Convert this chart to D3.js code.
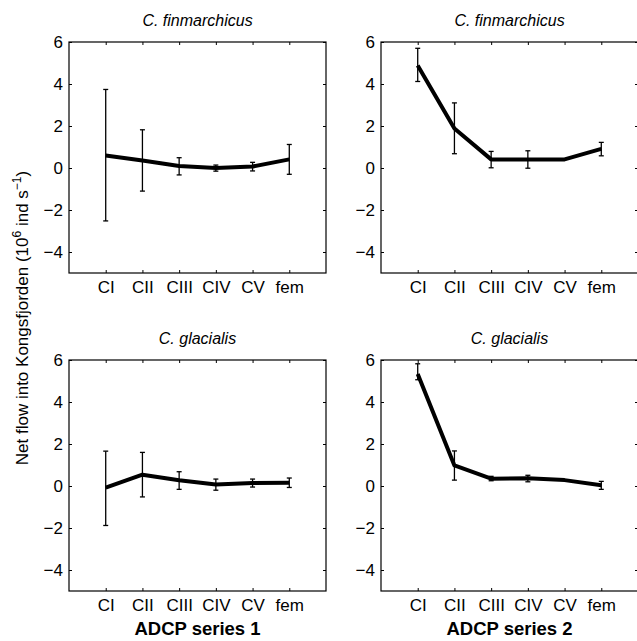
<!DOCTYPE html>
<html>
<head>
<meta charset="utf-8">
<script src="https://cdn.jsdelivr.net/npm/d3@7"></script>
<style>
  body { margin: 0; background: #fff; }
  svg { font-family: "Liberation Sans", Arial, sans-serif; }
  .tick text { font-size: 17px; fill: #000; }
  .tick line { stroke: #000; }
  .title { font-size: 16px; font-style: italic; }
  .xlabel { font-size: 18.5px; font-weight: bold; }
  .ylabel { font-size: 17px; }
</style>
</head>
<body>
<div id="chart"></div>
<script>
const stages = ["CI", "CII", "CIII", "CIV", "CV", "fem"]
const yTicks = [-4, -2, 0, 2, 4, 6]

// C. finmarchicus, ADCP series 1
const finS1Mean = [0.6, 0.36, 0.1, 0.0, 0.07, 0.41]
const finS1Low = [-2.52, -1.1, -0.33, -0.15, -0.14, -0.3]
const finS1High = [3.74, 1.82, 0.49, 0.14, 0.27, 1.12]

// C. finmarchicus, ADCP series 2
const finS2Mean = [4.88, 1.88, 0.41, 0.41, 0.41, 0.91]
const finS2Low = [4.12, 0.68, 0.01, -0.01, 0.41, 0.58]
const finS2High = [5.7, 3.1, 0.79, 0.82, 0.41, 1.22]

// C. glacialis, ADCP series 1
const glaS1Mean = [-0.08, 0.54, 0.27, 0.07, 0.14, 0.16]
const glaS1Low = [-1.88, -0.52, -0.16, -0.2, -0.05, -0.07]
const glaS1High = [1.66, 1.6, 0.68, 0.33, 0.33, 0.38]

// C. glacialis, ADCP series 2
const glaS2Mean = [5.33, 0.98, 0.35, 0.37, 0.28, 0.04]
const glaS2Low = [5.06, 0.28, 0.25, 0.2, 0.28, -0.16]
const glaS2High = [5.82, 1.67, 0.46, 0.51, 0.28, 0.22]

const panels = [
  { title: "C. finmarchicus", mean: finS1Mean, low: finS1Low, high: finS1High, col: 0, row: 0 },
  { title: "C. finmarchicus", mean: finS2Mean, low: finS2Low, high: finS2High, col: 1, row: 0 },
  { title: "C. glacialis", mean: glaS1Mean, low: glaS1Low, high: glaS1High, col: 0, row: 1 },
  { title: "C. glacialis", mean: glaS2Mean, low: glaS2Low, high: glaS2High, col: 1, row: 1 }
]
const seriesLabels = ["ADCP series 1", "ADCP series 2"]

const width = 637
const height = 641
const panelW = 257
const panelH = 231
const lefts = [69, 381]
const tops = [42, 360]

const svg = d3.select("#chart").append("svg")
    .attr("width", width)
    .attr("height", height)

const x = d3.scaleLinear().domain([0, 7]).range([0, panelW])
const y = d3.scaleLinear().domain([-5, 6]).range([panelH, 0])

panels.forEach(p => {
  const g = svg.append("g")
      .attr("transform", `translate(${lefts[p.col]},${tops[p.row]})`)

  // ticks inside the box, like the original
  g.append("g")
      .call(d3.axisLeft(y).tickValues(yTicks).tickSize(-3).tickPadding(6).tickFormat(d => d < 0 ? "\u2212" + Math.abs(d) : d))
      .call(a => a.select(".domain").remove())
  g.append("g")
      .attr("transform", `translate(${panelW},0)`)
      .call(d3.axisRight(y).tickValues(yTicks).tickSize(-3).tickFormat(""))
      .call(a => a.select(".domain").remove())
  g.append("g")
      .attr("transform", `translate(0,${panelH})`)
      .call(d3.axisBottom(x).tickValues(d3.range(1, 7)).tickSize(-3).tickPadding(8).tickFormat(d => stages[d - 1]))
      .call(a => a.select(".domain").remove())
  g.append("g")
      .call(d3.axisTop(x).tickValues(d3.range(1, 7)).tickSize(-3).tickFormat(""))
      .call(a => a.select(".domain").remove())
  g.selectAll(".tick text").attr("font-family", null).attr("font-size", null)

  g.append("rect")
      .attr("width", panelW)
      .attr("height", panelH)
      .attr("fill", "none")
      .attr("stroke", "#000")
      .attr("stroke-width", 1.2)

  // error bars
  const idx = d3.range(stages.length)
  const eb = g.append("g").attr("stroke", "#000").attr("stroke-width", 1.3)
  idx.forEach(i => {
    const xi = x(i + 1)
    eb.append("line").attr("x1", xi).attr("x2", xi).attr("y1", y(p.low[i])).attr("y2", y(p.high[i]))
    eb.append("line").attr("x1", xi - 2.5).attr("x2", xi + 2.5).attr("y1", y(p.low[i])).attr("y2", y(p.low[i]))
    eb.append("line").attr("x1", xi - 2.5).attr("x2", xi + 2.5).attr("y1", y(p.high[i])).attr("y2", y(p.high[i]))
  })

  const line = d3.line()
      .x((d, i) => x(i + 1))
      .y(d => y(d))
  g.append("path")
      .datum(p.mean)
      .attr("d", line)
      .attr("fill", "none")
      .attr("stroke", "#000")
      .attr("stroke-width", 4)
      .attr("stroke-linejoin", "round")

  svg.append("text")
      .attr("class", "title")
      .attr("x", lefts[p.col] + panelW / 2)
      .attr("y", tops[p.row] - 16)
      .attr("text-anchor", "middle")
      .text(p.title)
})

seriesLabels.forEach((s, i) => {
  svg.append("text")
      .attr("class", "xlabel")
      .attr("x", lefts[i] + panelW / 2)
      .attr("y", 635)
      .attr("text-anchor", "middle")
      .text(s)
})

const yl = svg.append("text")
    .attr("class", "ylabel")
    .attr("transform", "translate(28,318) rotate(-90)")
    .attr("text-anchor", "middle")
yl.append("tspan").text("Net flow into Kongsfjorden (10")
yl.append("tspan").attr("dy", -7).attr("font-size", 12).text("6")
yl.append("tspan").attr("dy", 7).text(" ind s")
yl.append("tspan").attr("dy", -7).attr("font-size", 12).text("\u22121")
yl.append("tspan").attr("dy", 7).text(")")
</script>
</body>
</html>
